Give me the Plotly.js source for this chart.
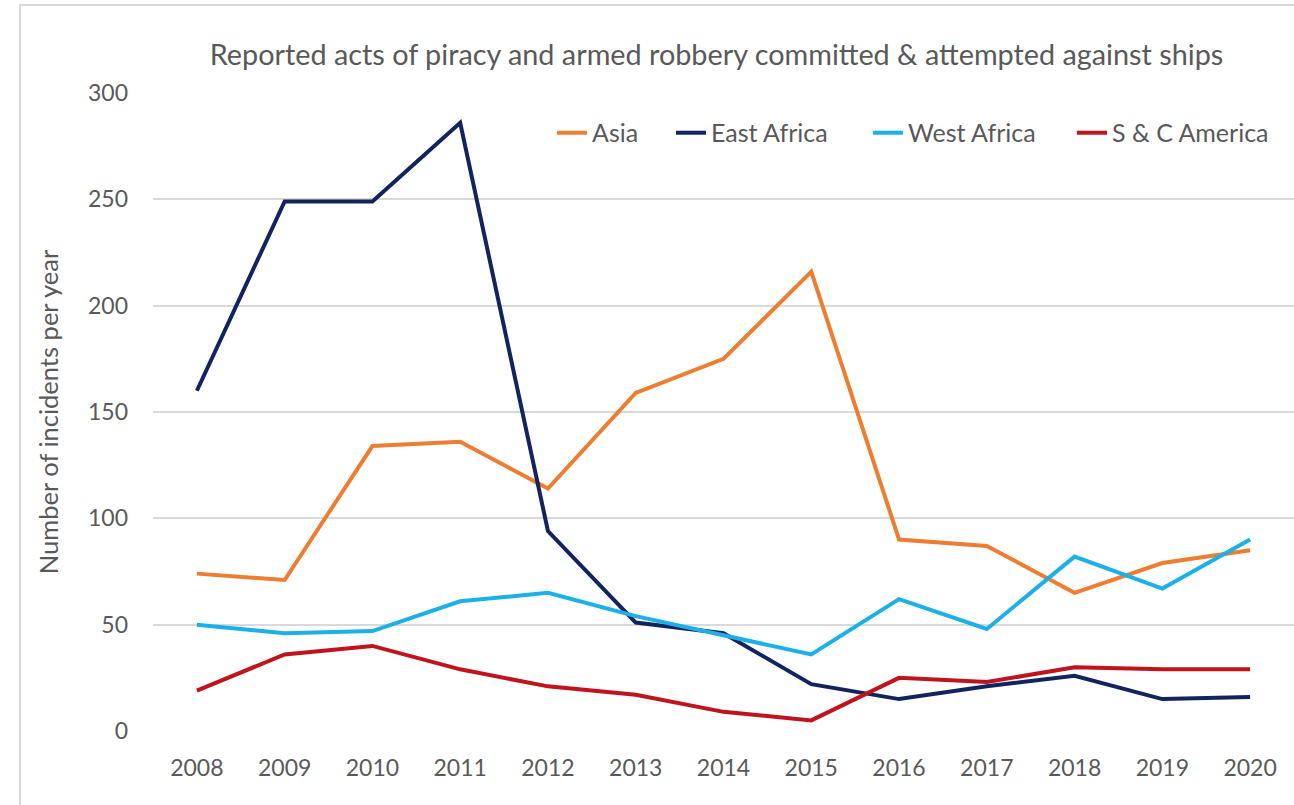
<!DOCTYPE html>
<html>
<head>
<meta charset="utf-8">
<script src="https://cdn.plot.ly/plotly-3.0.1.min.js"></script>
<style>html,body{margin:0;padding:0;background:#fff;}#chart{width:1294px;height:805px;}</style>
</head>
<body>
<div id="chart"></div>
<script>
const years = ["2008","2009","2010","2011","2012","2013","2014","2015","2016","2017","2018","2019","2020"];
const asia = [74, 71, 134, 136, 114, 159, 175, 216, 90, 87, 65, 79, 85];
const eastAfrica = [160, 249, 249, 286, 94, 51, 46, 22, 15, 21, 26, 15, 16];
const westAfrica = [50, 46, 47, 61, 65, 54, 45, 36, 62, 48, 82, 67, 90];
const scAmerica = [19, 36, 40, 29, 21, 17, 9, 5, 25, 23, 30, 29, 29];
const seriesNames = ["Asia", "East Africa", "West Africa", "S & C America"];
const yTicks = [0, 50, 100, 150, 200, 250, 300];

const colors = ["#ED7D31", "#12245E", "#1CB0E8", "#C0131B"];
const values = [asia, eastAfrica, westAfrica, scAmerica];
const FONT = "Lato, 'Open Sans', sans-serif";
const legendIds = ["legend", "legend2", "legend3", "legend4"];
const legendTextStart = [592, 711, 908, 1112];

const traces = values.map((v, i) => ({
  type: "scatter", mode: "lines", x: years, y: v, name: seriesNames[i],
  legend: legendIds[i],
  line: {color: colors[i], width: 4}, hoverinfo: "x+y+name"
}));

const L = 153, R = 0, T = 93, B = 73.5;
const W = 1294, H = 805;
const pw = W - L - R, ph = H - T - B;
const px2x = p => (p - L) / pw;
const py2y = p => (H - B - p) / ph;

const layout = {
  width: W, height: H,
  margin: {l: L, r: R, t: T, b: B, pad: 0},
  paper_bgcolor: "#ffffff", plot_bgcolor: "#ffffff",
  font: {family: FONT, color: "#595959", size: 23},
  title: {text: "Reported acts of piracy and armed robbery committed &amp; attempted against ships",
    font: {family: FONT, size: 28.8, color: "#595959"},
    xref: "container", x: 716.5 / W, xanchor: "center",
    yref: "container", y: 1 - 55 / H, yanchor: "middle"},
  xaxis: {type: "category", range: [-0.5, 12.5], showgrid: false, zeroline: false,
    showline: false, ticks: "", tickfont: {size: 23, color: "#595959"},
    ticklabelstandoff: 21, fixedrange: true},
  yaxis: {range: [0, 300], tickvals: yTicks, ticktext: yTicks.map(String),
    showgrid: true, gridcolor: "#D9D9D9", gridwidth: 2, zeroline: false, showline: false,
    ticks: "", tickfont: {size: 23, color: "#595959"}, ticklabelstandoff: 24,
    title: {text: "Number of incidents per year", font: {size: 25.5, color: "#595959"}, standoff: 22},
    fixedrange: true},
  showlegend: true,
  shapes: [{type: "rect", xref: "paper", yref: "paper", layer: "below",
    x0: px2x(20), x1: px2x(1300), y0: py2y(820), y1: py2y(5),
    line: {color: "#D9D9D9", width: 2}, fillcolor: "rgba(0,0,0,0)"}]
};

legendIds.forEach((id, i) => {
  layout[id] = {orientation: "h", x: px2x(legendTextStart[i] - 40), xanchor: "left",
    y: py2y(133), yanchor: "middle", font: {size: 25, color: "#595959"},
    bgcolor: "rgba(0,0,0,0)", itemwidth: 30};
});

Plotly.newPlot("chart", traces, layout, {displayModeBar: false});
</script>
</body>
</html>
